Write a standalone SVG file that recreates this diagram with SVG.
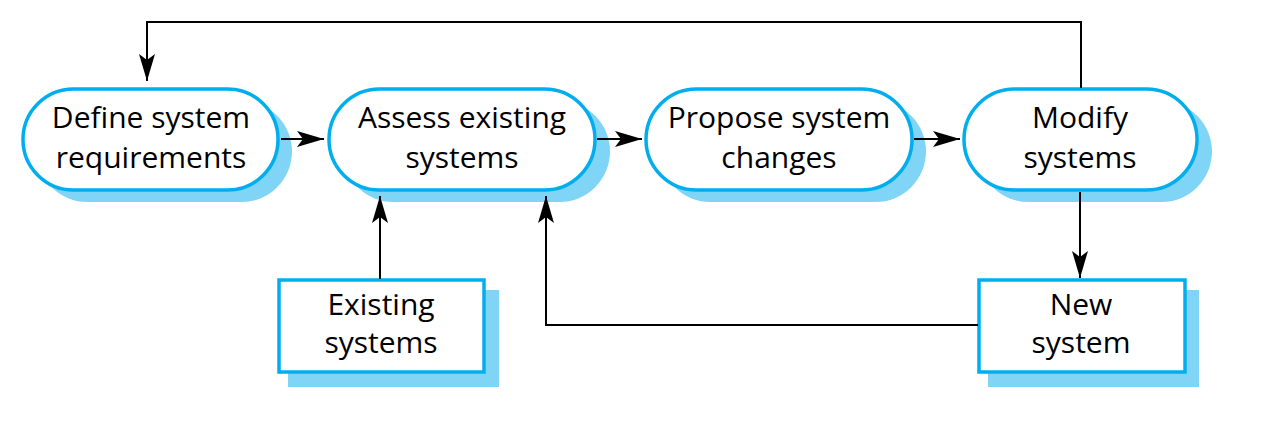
<svg xmlns="http://www.w3.org/2000/svg" width="1269" height="425" viewBox="0 0 1269 425">
<defs>
<marker id="arr" markerUnits="userSpaceOnUse" markerWidth="30" markerHeight="18" refX="27" refY="8" orient="auto">
<path d="M0,0 L27,8 L0,16 L6,8 Z" fill="#000"/>
</marker>
</defs>
<style>
.shadow{fill:#80d4f6;stroke:none}
.node{fill:#fff;stroke:#00aeef;stroke-width:3.5}
.lbl{font-family:"Open Sans","Liberation Sans",sans-serif;font-size:30px;fill:#000;text-anchor:middle}
.conn{fill:none;stroke:#000;stroke-width:2}
</style>
<rect width="1269" height="425" fill="#fff"/>
<g id="define">
<rect class="shadow" x="37" y="101" width="255" height="101" rx="50.5"/>
<rect class="node" x="23" y="89" width="255" height="101" rx="50.5"/>
<text class="lbl" x="151" y="128">Define system</text>
<text class="lbl" x="151" y="168">requirements</text>
</g>
<g id="assess">
<rect class="shadow" x="343" y="101" width="267" height="101" rx="50.5"/>
<rect class="node" x="329" y="89" width="266" height="101" rx="50.5"/>
<text class="lbl" x="462" y="128">Assess existing</text>
<text class="lbl" x="462" y="168">systems</text>
</g>
<g id="propose">
<rect class="shadow" x="660" y="101" width="266" height="101" rx="50.5"/>
<rect class="node" x="646" y="89" width="266" height="101" rx="50.5"/>
<text class="lbl" x="779" y="128">Propose system</text>
<text class="lbl" x="779" y="168">changes</text>
</g>
<g id="modify">
<rect class="shadow" x="978" y="101" width="234" height="101" rx="50.5"/>
<rect class="node" x="964" y="89" width="233" height="101" rx="50.5"/>
<text class="lbl" x="1080" y="128">Modify</text>
<text class="lbl" x="1080" y="168">systems</text>
</g>
<g id="existing">
<rect class="shadow" x="288" y="290" width="211" height="97"/>
<rect class="node" x="279" y="280" width="205" height="92"/>
<text class="lbl" x="381" y="315">Existing</text>
<text class="lbl" x="381" y="353">systems</text>
</g>
<g id="newsystem">
<rect class="shadow" x="988" y="290" width="211" height="97"/>
<rect class="node" x="979" y="280" width="206" height="92"/>
<text class="lbl" x="1081" y="315">New</text>
<text class="lbl" x="1081" y="353">system</text>
</g>
<g id="connectors">
<path class="conn" d="M1081,88 V22 H147 V81" marker-end="url(#arr)"/>
<path class="conn" d="M281,139 H324" marker-end="url(#arr)"/>
<path class="conn" d="M597,139 H642" marker-end="url(#arr)"/>
<path class="conn" d="M914,139 H960" marker-end="url(#arr)"/>
<path class="conn" d="M380,279 V196" marker-end="url(#arr)"/>
<path class="conn" d="M978,325 H546 V196" marker-end="url(#arr)"/>
<path class="conn" d="M1080,192 V278" marker-end="url(#arr)"/>
</g>
</svg>
